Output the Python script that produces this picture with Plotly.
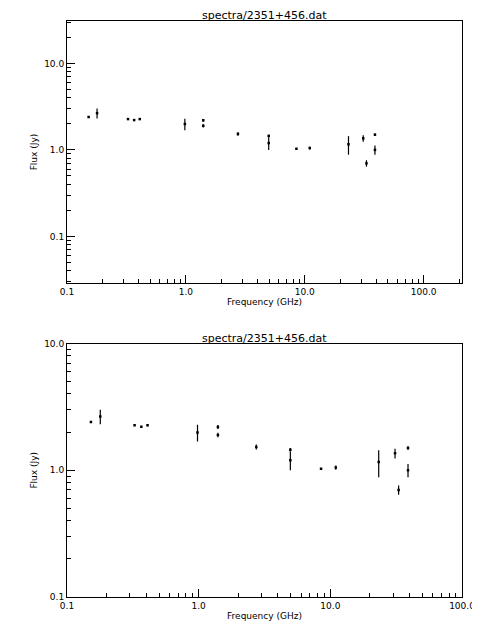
import plotly.graph_objects as go
from plotly.subplots import make_subplots

freq = [0.152, 0.179, 0.326, 0.367, 0.409, 0.98, 1.4, 1.4, 2.74, 4.97, 4.97,
        8.5, 11.0, 23.3, 31.0, 33.0, 38.9, 38.9]
flux = [2.4, 2.66, 2.27, 2.21, 2.27, 1.99, 2.2, 1.9, 1.53, 1.2, 1.45,
        1.03, 1.05, 1.16, 1.36, 0.70, 1.5, 1.0]
err = [0.03, 0.35, 0.03, 0.03, 0.04, 0.3, 0.08, 0.08, 0.07, 0.2, 0.05,
       0.01, 0.04, 0.28, 0.12, 0.06, 0.05, 0.12]

title = "spectra/2351+456.dat"
xt = [0.1, 1, 10, 100]
xl = ["0.1", "1.0", "10.0", "100.0"]
yt = [0.1, 1, 10]
yl = ["0.1", "1.0", "10.0"]

fig = make_subplots(rows=2, cols=1, vertical_spacing=0.1,
                    subplot_titles=[title, title])
for r in (1, 2):
    fig.add_trace(go.Scatter(
        x=freq, y=flux, mode="markers",
        marker=dict(color="black", size=2.5, symbol="square"),
        error_y=dict(type="data", array=err, color="black", thickness=1.2, width=0),
        showlegend=False), row=r, col=1)

ax = dict(type="log", showgrid=False, zeroline=False, showline=True, mirror=True,
          linecolor="black", linewidth=1, ticks="inside", ticklen=8, tickcolor="black",
          minor=dict(ticks="inside", ticklen=4, tickcolor="black", showgrid=False, dtick="D1"),
          tickfont=dict(family="DejaVu Sans", size=9, color="black"), automargin=False)
fig.update_xaxes(**ax, tickvals=xt, ticktext=xl,
                 title=dict(text="Frequency (GHz)", font=dict(size=9, family="DejaVu Sans"), standoff=2))
fig.update_yaxes(**ax, tickvals=yt, ticktext=yl,
                 title=dict(text="Flux (Jy)", font=dict(size=9, family="DejaVu Sans"), standoff=4))
fig.update_xaxes(range=[-1, 2.322], row=1, col=1)
fig.update_yaxes(range=[-1.54, 1.49], row=1, col=1)
fig.update_xaxes(range=[-1, 2], row=2, col=1)
fig.update_yaxes(range=[-1, 1], row=2, col=1)
fig.update_layout(
    width=480, height=640, plot_bgcolor="white", paper_bgcolor="white",
    margin=dict(l=59, r=26, t=13, b=51),
    yaxis=dict(domain=[0.545, 1]), yaxis2=dict(domain=[0, 0.44]),
    font=dict(family="DejaVu Sans", color="black"),
)
for a in fig.layout.annotations:
    a.font = dict(size=11, family="DejaVu Sans", color="black")
    a.yshift = -3
fig.layout.annotations[1].y = 0.44
fig.write_html("out.html")
